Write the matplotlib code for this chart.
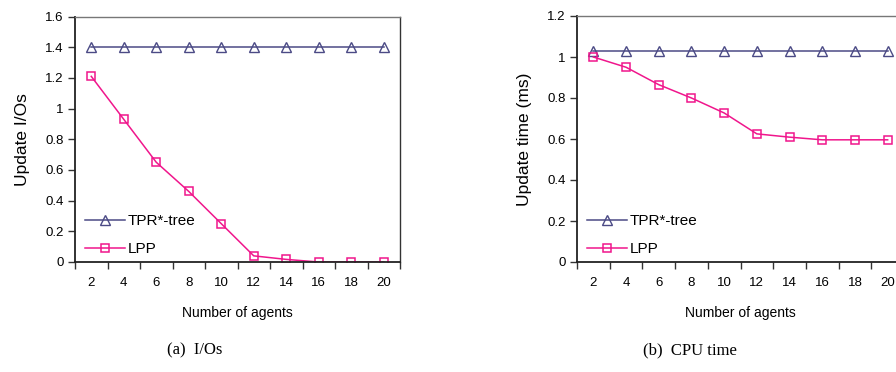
import numpy as np
import matplotlib
matplotlib.use("Agg")
from matplotlib import pyplot as plt

plt.rcParams['font.family'] = ['Liberation Sans', 'DejaVu Sans']

# datos
agentes = [2, 4, 6, 8, 10, 12, 14, 16, 18, 20]
io_tpr = [1.40, 1.40, 1.40, 1.40, 1.40, 1.40, 1.40, 1.40, 1.40, 1.40]
io_lpp = [1.21, 0.93, 0.65, 0.46, 0.25, 0.04, 0.017, 0.0, 0.0, 0.0]
cpu_tpr = [1.03, 1.03, 1.03, 1.03, 1.03, 1.03, 1.03, 1.03, 1.03, 1.03]
cpu_lpp = [1.0, 0.95, 0.865, 0.80, 0.727, 0.625, 0.609, 0.596, 0.596, 0.596]

yt_io = [0, 0.2, 0.4, 0.6, 0.8, 1.0, 1.2, 1.4, 1.6]
yl_io = ['0', '0.2', '0.4', '0.6', '0.8', '1', '1.2', '1.4', '1.6']
yt_cpu = [0, 0.2, 0.4, 0.6, 0.8, 1.0, 1.2]
yl_cpu = ['0', '0.2', '0.4', '0.6', '0.8', '1', '1.2']

c_tpr = '#4b4a85'
c_lpp = '#f0168c'

fig = plt.figure(figsize=(8.96, 3.72), dpi=100)


def panel(ax, tpr, lpp, yt, yl, ylabel):
    x = np.arange(len(agentes))
    ax.plot(x, tpr, color=c_tpr, lw=1.1, marker='^', ms=6.5, mfc='none',
            mec=c_tpr, mew=1.0, label='TPR*-tree')
    ax.plot(x, lpp, color=c_lpp, lw=1.1, marker='s', ms=6, mfc='none',
            mec=c_lpp, mew=1.1, label='LPP')
    ax.set_xlim(-0.5, len(agentes) - 0.5)
    ax.set_ylim(yt[0], yt[-1])
    # eje de categorias estilo Excel
    ax.set_xticks(np.arange(len(agentes) + 1) - 0.5)
    ax.set_xticklabels([])
    ax.set_xticks(x, minor=True)
    ax.set_xticklabels([str(a) for a in agentes], minor=True, fontsize=9.5)
    ax.tick_params(axis='x', which='major', direction='out', length=5,
                   width=1, color='#333333')
    ax.tick_params(axis='x', which='minor', length=0, pad=11)
    ax.set_yticks(yt)
    ax.set_yticklabels(yl, fontsize=9.5)
    ax.tick_params(axis='y', direction='out', length=5, width=1,
                   color='#333333', pad=3)
    ax.set_ylabel(ylabel, fontsize=12.5, labelpad=11)
    ax.set_xlabel('Number of agents', fontsize=10, labelpad=12)
    for s in ['left', 'bottom']:
        ax.spines[s].set_linewidth(1.3)
        ax.spines[s].set_color('#222222')
    ax.spines['top'].set_color('#777777')
    ax.spines['top'].set_linewidth(1.0)
    ax.spines['right'].set_color('#333333')
    ax.spines['right'].set_linewidth(1.0)
    ax.legend(loc='lower left', bbox_to_anchor=(0.013, 0.0), frameon=False,
              fontsize=11, handlelength=2.6, handletextpad=0.15,
              labelspacing=0.9, borderaxespad=0.0)


ax1 = fig.add_axes([75 / 896, 1 - 262 / 372, 325 / 896, 245.5 / 372])
panel(ax1, io_tpr, io_lpp, yt_io, yl_io, 'Update I/Os')

ax2 = fig.add_axes([577 / 896, 1 - 262 / 372, 327 / 896, 246 / 372])
panel(ax2, cpu_tpr, cpu_lpp, yt_cpu, yl_cpu, 'Update time (ms)')

fig.text(195 / 896, 1 - 350 / 372, '(a)  I/Os', family='Liberation Serif',
         fontsize=12, ha='center', va='center')
fig.text(690 / 896, 1 - 350 / 372, '(b)  CPU time', family='Liberation Serif',
         fontsize=12, ha='center', va='center')

fig.savefig('out.png', dpi=100)
